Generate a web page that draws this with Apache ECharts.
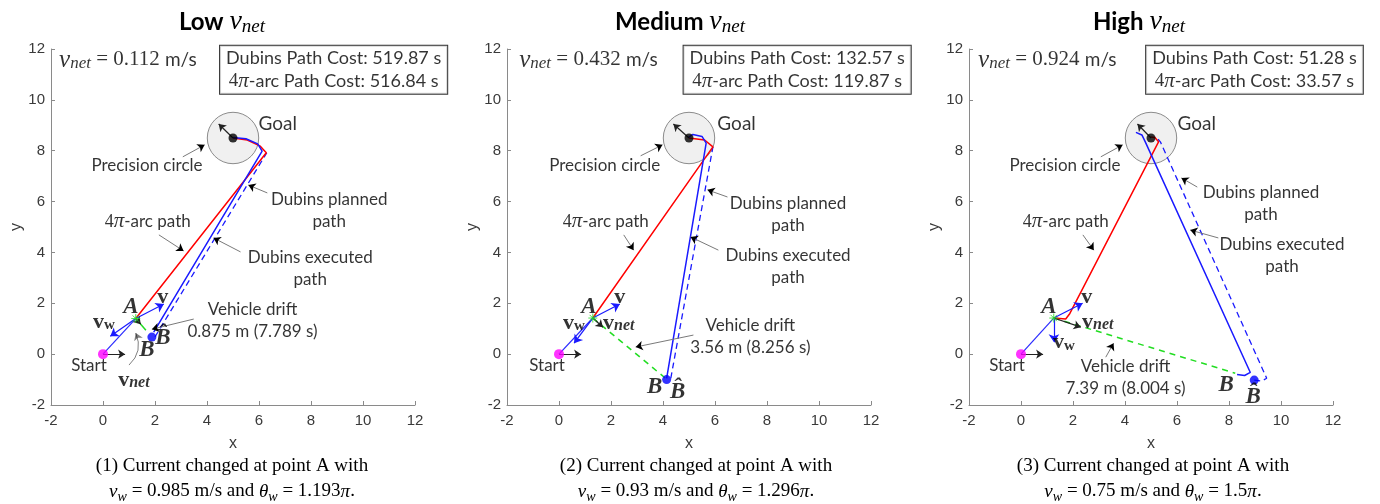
<!DOCTYPE html>
<html><head><meta charset="utf-8">
<script src="https://cdn.jsdelivr.net/npm/echarts@6/dist/echarts.min.js"></script>
<style>html,body{margin:0;padding:0;background:#fff}#c{width:1380px;height:504px}</style>
</head><body><div id="c"></div>
<script>
// ---------- data ----------
const panelNames = ['Low', 'Medium', 'High'];
const vnetValues = ['0.112', '0.432', '0.924'];
const dubinsCost = ['519.87', '132.57', '51.28'];
const arcCost = ['516.84', '119.87', '33.57'];
const vwValues = ['0.985', '0.93', '0.75'];
const thetaValues = ['1.193', '1.296', '1.5'];
const driftText = ['0.875 m (7.789 s)', '3.56 m (8.256 s)', '7.39 m (8.004 s)'];
const axisTicks = [-2, 0, 2, 4, 6, 8, 10, 12];

const startPt = [0, 0];
const goalPt = [5, 8.5];
const precisionRadius = 1;
const startHeadingTip = [0.85, 0];
const goalHeadingTips = [[4.45, 9.05], [4.4, 9.05], [4.48, 9.05]];

const pointA = [[1.26, 1.4], [1.3, 1.42], [1.26, 1.42]];
const arcPaths = [
  [[1.26, 1.4], [6.28, 7.92], [6.05, 8.18], [5.55, 8.42], [5.0, 8.5]],
  [[1.3, 1.42], [5.92, 8.15], [5.6, 8.42], [5.0, 8.5]],
  [[1.26, 1.42], [1.72, 1.38], [1.88, 1.6], [5.29, 8.35], [5.15, 8.52], [4.98, 8.54]]
];
const executedPaths = [
  [[1.95, 0.87], [6.12, 7.98], [5.95, 8.27], [5.5, 8.47], [5.0, 8.52]],
  [[4.14, -0.95], [5.66, 8.3], [5.5, 8.56], [5.15, 8.64], [4.98, 8.52]],
  [[8.31, -0.8], [8.6, -0.84], [8.82, -0.72], [4.78, 8.35], [4.65, 8.62], [4.42, 8.72]]
];
const plannedPaths = [
  [[2.0, 0.68], [6.3, 7.92]],
  [[4.3, -0.95], [5.92, 8.15]],
  [[8.97, -1.02], [9.25, -1.06], [9.45, -0.95], [5.36, 8.35], [5.25, 8.48]]
];
const driftEnds = [[1.65, 0.94], [4.1, -0.95], [8.24, -0.75]];
const hatBPoints = [[1.88, 0.67], [4.14, -1.0], [8.97, -1.02]];
const vTips = [[2.34, 1.97], [2.34, 1.97], [2.37, 2.0]];
const vwTips = [[0.28, 0.7], [0.58, 0.43], [1.27, 0.47]];
const vnetTips = [[1.45, 1.18], [1.69, 1.06], [2.3, 1.06]];

// annotation arrows: [from, to]
const notePrecision = [[[3.07, 7.76], [3.91, 8.23]], [[3.14, 7.8], [3.98, 8.23]], [[3.07, 7.76], [3.91, 8.23]]];
const notePlanned = [[[6.32, 6.34], [5.59, 6.65]], [[6.48, 6.18], [5.71, 6.46]], [[6.78, 6.57], [6.17, 6.93]]];
const noteArc = [[[2.15, 4.69], [3.1, 4.06]], [[2.49, 4.69], [2.87, 4.09]], [[2.38, 4.69], [2.8, 4.09]]];
const noteExecuted = [[[5.29, 4.02], [4.25, 4.57]], [[6.13, 4.09], [5.06, 4.61]], [[7.59, 4.57], [6.51, 4.88]]];
const noteDrift = [[[3.49, 1.38], [1.88, 0.98]], [[5.17, 0.75], [2.95, 0.28]], [[3.26, -0.12], [3.56, 0.43]]];
const noteVnetCurve = [[1.0, -0.43], [1.26, 0.83]];

// text anchor positions (data coords)
const posVnetLabel = [[-1.69, 11.57], [-1.53, 11.57], [-1.65, 11.57]];
const posCostBox = [[8.87, 11.18], [9.16, 11.18], [8.98, 11.18]];
const posGoal = [[5.98, 9.06], [6.09, 9.06], [6.02, 9.06]];
const posPrecision = [[1.69, 7.4], [1.76, 7.4], [1.69, 7.4]];
const posPlanned = [[8.7, 5.63], [8.81, 5.51], [9.23, 5.94]];
const posArc = [[1.72, 5.2], [1.8, 5.2], [1.72, 5.2]];
const posExecuted = [[7.97, 3.35], [8.81, 3.46], [10.04, 3.86]];
const posA = [[1.07, 1.85], [1.15, 1.85], [1.07, 1.85]];
const posV = [[2.3, 2.24], [2.34, 2.24], [2.53, 2.24]];
const posVw = [[0.04, 1.26], [0.57, 1.22], [1.65, 0.47]];
const posVnet = [[1.19, -1.02], [2.3, 1.22], [2.95, 1.26]];
const posDrift = [[5.75, 1.34], [7.36, 0.71], [4.02, -0.9]];
const posB = [[1.69, 0.16], [3.68, -1.3], [7.89, -1.22]];
const posHatB = [[2.3, 0.63], [4.56, -1.5], [8.93, -1.69]];
const posStart = [[-0.54, -0.43], [-0.46, -0.43], [-0.54, -0.43]];

// ---------- layout ----------
const gridLefts = [51, 507, 969];
const gridW = 364, gridTop = 49, gridH = 356;
const titleX = [222, 680, 1139];
const captionX = [232, 696, 1153];

const SANS = 'Lato';
const SERIF = 'Liberation Serif';
const RICH = {
  s: {fontFamily: SANS, fontSize: 17, color: '#000', lineHeight: 22},
  m: {fontFamily: SERIF, fontSize: 18, color: '#000', lineHeight: 22},
  mi: {fontFamily: SERIF, fontStyle: 'italic', fontSize: 21, color: '#000', lineHeight: 22},
  bs: {fontFamily: SANS, fontSize: 18, color: '#000', lineHeight: 23},
  bm: {fontFamily: SERIF, fontSize: 19, color: '#000', lineHeight: 23},
  bmi: {fontFamily: SERIF, fontStyle: 'italic', fontSize: 21, color: '#000', lineHeight: 23},
  vs: {fontFamily: SANS, fontSize: 19, color: '#000', lineHeight: 24},
  vm: {fontFamily: SERIF, fontSize: 21, color: '#000', lineHeight: 24},
  vmi: {fontFamily: SERIF, fontStyle: 'italic', fontSize: 25, color: '#000', lineHeight: 24},
  vsub: {fontFamily: SERIF, fontStyle: 'italic', fontSize: 17, color: '#000', verticalAlign: 'bottom', lineHeight: 17},
  bi: {fontFamily: SERIF, fontStyle: 'italic', fontWeight: 'bold', fontSize: 23, color: '#000'},
  b: {fontFamily: SERIF, fontWeight: 'bold', fontSize: 22, color: '#000', lineHeight: 22},
  bsub: {fontFamily: SERIF, fontWeight: 'bold', fontSize: 15, color: '#000', verticalAlign: 'bottom', lineHeight: 16},
  bisub: {fontFamily: SERIF, fontWeight: 'bold', fontStyle: 'italic', fontSize: 16, color: '#000', verticalAlign: 'bottom', lineHeight: 16}
};

const grids = [], xAxes = [], yAxes = [], series = [], graphics = [];
const AXC = '#8a8a8a';

for (let i = 0; i < 3; i++) {
  grids.push({left: gridLefts[i], top: gridTop, width: gridW, height: gridH});
  const common = {
    type: 'value', gridIndex: i, min: axisTicks[0], max: axisTicks[axisTicks.length - 1], interval: 2,
    axisLine: {show: true, onZero: false, lineStyle: {color: AXC, width: 1}},
    axisTick: {show: true, inside: true, length: 4, lineStyle: {color: AXC}},
    splitLine: {show: false},
    axisLabel: {color: '#3a3a3a', fontFamily: 'Liberation Sans', fontSize: 15},
    nameLocation: 'middle',
    nameTextStyle: {color: '#3a3a3a', fontFamily: 'Liberation Sans', fontSize: 16}
  };
  xAxes.push(Object.assign({}, common, {name: 'x', nameGap: 31, axisLabel: Object.assign({}, common.axisLabel, {margin: 8})}));
  yAxes.push(Object.assign({}, common, {name: 'y', nameGap: 26, axisLabel: Object.assign({}, common.axisLabel, {margin: 6})}));

  const ax = {xAxisIndex: i, yAxisIndex: i};
  // precision circle
  series.push(Object.assign({
    type: 'custom', z: 1, silent: true,
    data: [[goalPt[0], goalPt[1], precisionRadius]],
    renderItem: function (params, api) {
      const c = api.coord([api.value(0), api.value(1)]);
      const s = api.size([api.value(2), api.value(2)]);
      return {type: 'circle', shape: {cx: c[0], cy: c[1], r: (s[0] + s[1]) / 2},
        style: {fill: '#f0f0f0', stroke: '#8c8c8c', lineWidth: 1}};
    }
  }, ax));
  const lineS = (data, color, width, type, z) => Object.assign({
    type: 'line', data: data, showSymbol: false, symbol: 'none', silent: true, z: z || 3,
    lineStyle: {color: color, width: width, type: type || 'solid'}
  }, ax);
  series.push(lineS([startPt, pointA[i]], '#2a2aff', 1.2));
  series.push(lineS([pointA[i], driftEnds[i]], '#22dd22', 1.5, i === 0 ? 'solid' : [6, 5]));
  series.push(lineS(arcPaths[i], '#ff0000', 1.5, 'solid', 4));
  series.push(lineS(plannedPaths[i], '#1a1aff', 1.3, [6, 4]));
  series.push(lineS(executedPaths[i], '#1a1aff', 1.5, 'solid', 4));

  const arrows = (list, color, width, size, z) => Object.assign({
    type: 'lines', coordinateSystem: 'cartesian2d', silent: true, z: z || 5,
    symbol: ['none', 'arrow'], symbolSize: size,
    lineStyle: {color: color, width: width, opacity: 1},
    data: list.map(c => ({coords: c}))
  }, ax);
  // vectors
  series.push(arrows([[pointA[i], vTips[i]], [pointA[i], vwTips[i]]], '#1a1aff', 1.2, 8));
  series.push(arrows([[pointA[i], vnetTips[i]], [startPt, startHeadingTip], [goalPt, goalHeadingTips[i]]], '#222', 1.2, 7));
  // annotation arrows: gray lines with black heads
  const notes = [notePrecision[i], notePlanned[i], noteArc[i], noteExecuted[i], noteDrift[i]];
  series.push(Object.assign({}, arrows(notes, '#7a7a7a', 1, 1), {symbol: 'none'}));
  series.push(arrows(notes, '#000', 0, 7, 6));
  if (i === 0) {
    series.push(Object.assign({
      type: 'lines', coordinateSystem: 'cartesian2d', silent: true, z: 5,
      symbol: ['none', 'arrow'], symbolSize: 7,
      lineStyle: {color: '#000', width: 1, curveness: -0.35},
      data: [{coords: noteVnetCurve}]
    }, ax));
  }
  // points
  series.push(Object.assign({
    type: 'scatter', silent: true, z: 7,
    data: [
      {value: startPt, symbolSize: 10, itemStyle: {color: '#ff00ff'}},
      {value: goalPt, symbolSize: 9, itemStyle: {color: '#000'}},
      {value: hatBPoints[i], symbolSize: 9, itemStyle: {color: '#0000ff'}},
      {value: pointA[i], symbol: 'path://M0,-5L0,5M-5,0L5,0M-3.5,-3.5L3.5,3.5M-3.5,3.5L3.5,-3.5', symbolSize: 9,
        itemStyle: {color: 'none', borderColor: '#22dd22', borderWidth: 1}}
    ]
  }, ax));
  // texts
  const T = (pos, text, opts) => ({value: pos, label: Object.assign({formatter: text, position: 'inside', align: 'center', verticalAlign: 'middle'}, opts || {})});
  const L = (pos, text, opts) => T(pos, text, Object.assign({position: 'right', distance: 0, align: 'left'}, opts || {}));
  const texts = [
    L(posVnetLabel[i], '{vmi|v}{vsub|net}{vm| = ' + vnetValues[i] + ' }{vs|m/s}'),
    T(posCostBox[i], '{bs|Dubins Path Cost: ' + dubinsCost[i] + ' s}\n{bm|4}{bmi|\u03c0}{bs|-arc Path Cost: ' + arcCost[i] + ' s}',
      {borderColor: '#000', borderWidth: 1, padding: [1, 6, 1, 6], backgroundColor: '#fff'}),
    L(posGoal[i], '{g|Goal}'),
    T(posPrecision[i], '{s|Precision circle}'),
    T(posPlanned[i], '{s|Dubins planned}\n{s|path}'),
    T(posArc[i], '{m|4}{mi|\u03c0}{s|-arc path}'),
    T(posExecuted[i], '{s|Dubins executed}\n{s|path}'),
    T(posA[i], '{bi|A}'),
    T(posV[i], '{b|v}'),
    T(posVw[i], '{b|v}{bsub|w}'),
    T(posVnet[i], '{b|v}{bisub|net}'),
    T(posDrift[i], '{s|Vehicle drift}\n{s|' + driftText[i] + '}'),
    T(posB[i], '{bi|B}'),
    T(posHatB[i], '{bi|B\u0302}'),
    T(posStart[i], '{s|Start}')
  ];
  series.push(Object.assign({
    type: 'scatter', silent: true, z: 8, symbolSize: 0, itemStyle: {color: 'transparent'},
    label: {show: true, color: '#000', rich: Object.assign({g: {fontFamily: SANS, fontSize: 19, color: '#000'}}, RICH)},
    data: texts
  }, ax));

  // titles and captions
  graphics.push({type: 'text', x: titleX[i], y: 22, style: {
    text: '{t|' + panelNames[i] + ' }{ti|v}{tsub|net}', align: 'center', verticalAlign: 'middle',
    rich: {
      t: {fontFamily: SANS, fontWeight: 'bold', fontSize: 24, color: '#000', lineHeight: 28},
      ti: {fontFamily: SERIF, fontStyle: 'italic', fontSize: 28, color: '#000', lineHeight: 28},
      tsub: {fontFamily: SERIF, fontStyle: 'italic', fontSize: 19, color: '#000', verticalAlign: 'bottom', lineHeight: 20}
    }}});
  graphics.push({type: 'text', x: captionX[i], y: 479, style: {
    text: '{c|(' + (i + 1) + ') Current changed at point A with}\n{ci|v}{csub|w}{c| = ' + vwValues[i] + ' m/s and }{ci|\u03b8}{csub|w}{c| = ' + thetaValues[i] + '}{ci|\u03c0}{c|.}',
    align: 'center', verticalAlign: 'middle',
    rich: {
      c: {fontFamily: SERIF, fontSize: 19, color: '#000', lineHeight: 25},
      ci: {fontFamily: SERIF, fontStyle: 'italic', fontSize: 19, color: '#000', lineHeight: 25},
      csub: {fontFamily: SERIF, fontStyle: 'italic', fontSize: 14, color: '#000', verticalAlign: 'bottom', lineHeight: 18}
    }}});
}

const chart = echarts.init(document.getElementById('c'), null, {renderer: 'canvas'});
chart.setOption({
  animation: false,
  backgroundColor: '#fff',
  grid: grids, xAxis: xAxes, yAxis: yAxes, series: series, graphic: graphics
});
</script>
</body></html>
